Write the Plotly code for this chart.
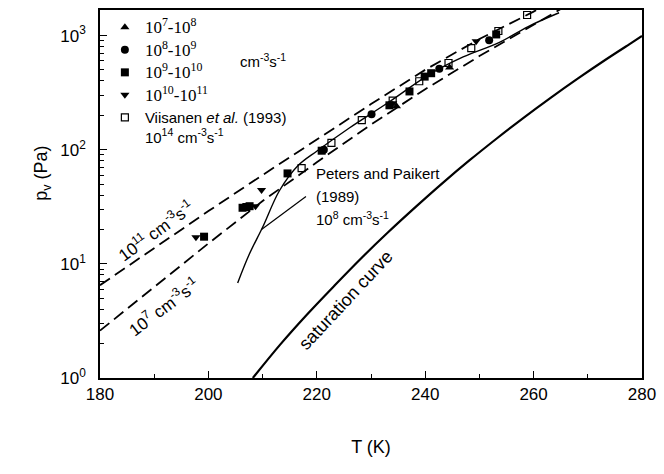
import plotly.graph_objects as go

# Temperature (K) and vapour pressure (Pa) of the measured onset conditions,
# grouped by nucleation rate (cm^-3 s^-1)
t_7_8 = [234.7, 244.5]
p_7_8 = [240, 525]

t_8_9 = [221.3, 230.1, 242.6, 251.8]
p_8_9 = [100, 204, 513, 912]

t_9_10 = [199.2, 206.3, 207.0, 207.6, 214.6, 220.9, 233.4, 237.1, 239.9, 241.1, 253.1]
p_9_10 = [17.3, 31, 31.5, 32, 62, 98, 245, 324, 437, 468, 1023]

t_10_11 = [197.7, 208.7, 209.8, 234.0, 249.4]
p_10_11 = [17.1, 32, 44.4, 255, 891]

# Viisanen et al. (1993), J = 1e14 cm^-3 s^-1
t_viis = [217.2, 222.7, 228.3, 234.0, 238.9, 244.3, 248.5, 253.5, 258.8]
p_viis = [69, 115, 182, 269, 398, 575, 776, 1096, 1514]

# Constant nucleation-rate lines
t_j11 = [180, 190, 200, 210, 220, 230, 240, 250, 260, 265]
p_j11 = [6.5, 13.8, 29.0, 60.0, 123, 251, 501, 933, 1622, 2138]

t_j7 = [180, 190, 200, 210, 220, 230, 240, 250, 260, 266]
p_j7 = [2.6, 6.3, 15.1, 35.5, 77.6, 166, 339, 661, 1259, 1820]

# Peters and Paikert (1989), J = 1e8 cm^-3 s^-1
t_pp = [205.4, 207.5, 210.0, 213.1, 216.5, 220.1, 226.0, 233.4, 240.8, 247.0, 253.7, 259.0, 264.7]
p_pp = [6.8, 12.0, 20.9, 43.7, 72.4, 98, 155, 263, 457, 650, 871, 1200, 1585]

# Saturation vapour pressure of (supercooled) liquid water
t_sat = [208.2, 213.2, 218.2, 223.2, 228.2, 233.2, 238.2, 243.2, 248.2, 253.2, 258.2, 263.2, 268.2, 273.2, 278.2, 280.0]
p_sat = [1.0, 1.95, 3.6, 6.4, 11.2, 19.0, 31.4, 51.0, 80.9, 125.4, 191.4, 286.5, 421.7, 611.2, 872, 991]

# Pointer from the Peters and Paikert curve to its label
t_ptr = [209.8, 218.0]
p_ptr = [20.0, 38.9]

SANS = "Liberation Sans, Arial, Helvetica, sans-serif"
SERIF = "Liberation Serif, Times New Roman, serif"

fig = go.Figure()

fig.add_trace(go.Scatter(x=t_j11, y=p_j11, mode="lines", showlegend=False,
                         line=dict(color="black", width=1.8, dash="12px,6px")))
fig.add_trace(go.Scatter(x=t_j7, y=p_j7, mode="lines", showlegend=False,
                         line=dict(color="black", width=1.8, dash="12px,6px")))
fig.add_trace(go.Scatter(x=t_pp, y=p_pp, mode="lines", showlegend=False,
                         line=dict(color="black", width=1.4, shape="spline")))
fig.add_trace(go.Scatter(x=t_ptr, y=p_ptr, mode="lines", showlegend=False,
                         line=dict(color="black", width=1.2)))
fig.add_trace(go.Scatter(x=t_sat, y=p_sat, mode="lines", showlegend=False,
                         line=dict(color="black", width=2.2, shape="spline")))


def serif(txt):
    return f'<span style="font-family:{SERIF};font-size:17px">{txt}</span>'


series = [
    (t_7_8, p_7_8, "triangle-up", serif("10<sup>7</sup>-10<sup>8</sup>")),
    (t_8_9, p_8_9, "circle", serif("10<sup>8</sup>-10<sup>9</sup>")),
    (t_9_10, p_9_10, "square", serif("10<sup>9</sup>-10<sup>10</sup>")),
    (t_10_11, p_10_11, "triangle-down", serif("10<sup>10</sup>-10<sup>11</sup>")),
]
for tx, py, sym, name in series:
    fig.add_trace(go.Scatter(x=tx, y=py, mode="markers", name=name,
                             marker=dict(symbol=sym, size=8, color="black")))

fig.add_trace(go.Scatter(
    x=t_viis, y=p_viis, mode="markers",
    name="Viisanen <i>et al.</i> (1993)<br>10<sup>14</sup> cm<sup>-3</sup>s<sup>-1</sup>",
    marker=dict(symbol="square-open", size=7, color="black", line=dict(width=1.2))))

annotations = [
    dict(x=219.4, y=1.794, text="Peters and Paikert", xanchor="left"),
    dict(x=219.4, y=1.594, text="(1989)", xanchor="left"),
    dict(x=219.4, y=1.394, text="10<sup>8</sup> cm<sup>-3</sup>s<sup>-1</sup>", xanchor="left"),
    dict(x=225.4, y=0.68, text="saturation curve", textangle=-47, font=dict(size=18)),
    dict(x=190.3, y=1.30, text="10<sup>11</sup> cm<sup>-3</sup>s<sup>-1</sup>", textangle=-36,
         font=dict(size=17)),
    dict(x=191.8, y=0.63, text="10<sup>7</sup> cm<sup>-3</sup>s<sup>-1</sup>", textangle=-37,
         font=dict(size=17)),
]
for a in annotations:
    a.setdefault("font", dict(size=15))
    a["font"] = dict(family=SANS, color="black", **a["font"])
    a.update(xref="x", yref="y", showarrow=False)
annotations += [
    dict(x=0.254, y=0.895, xref="paper", yref="paper", xanchor="left",
         showarrow=False, text="cm<sup>-3</sup>s<sup>-1</sup>",
         font=dict(family=SANS, size=15, color="black")),
    dict(x=-0.13, y=0.555, xref="paper", yref="paper", showarrow=False, textangle=-90,
         text="p<sub>v</sub> (Pa)", font=dict(family=SANS, size=18, color="black")),
]

minor_y = [m * 10 ** k for k in range(0, 4) for m in range(2, 10)]

fig.update_layout(
    width=664, height=474,
    margin=dict(l=100, r=21, t=8, b=96),
    paper_bgcolor="white", plot_bgcolor="white",
    font=dict(family=SANS, color="black"),
    annotations=annotations,
    legend=dict(x=0.009, y=0.997, xanchor="left", yanchor="top", bgcolor="rgba(0,0,0,0)",
                font=dict(family=SANS, size=15, color="black"),
                valign="top", traceorder="normal"),
    xaxis=dict(range=[180, 280], tickvals=[180, 200, 220, 240, 260, 280],
               ticks="inside", ticklen=7, tickwidth=1.2, tickcolor="black",
               minor=dict(tickvals=[190, 210, 230, 250, 270], ticks="inside", ticklen=4,
                          tickcolor="black"),
               showline=True, linecolor="black", linewidth=1.5, mirror=True,
               showgrid=False, zeroline=False,
               tickfont=dict(size=17, family=SANS),
               title=dict(text="T (K)", font=dict(size=18, family=SANS), standoff=37)),
    yaxis=dict(type="log", range=[0, 3.224], tickvals=[1, 10, 100, 1000],
               ticktext=["10<sup>0</sup>", "10<sup>1</sup>", "10<sup>2</sup>", "10<sup>3</sup>"],
               ticks="inside", ticklen=7, tickwidth=1.2, tickcolor="black",
               ticklabelstandoff=9,
               minor=dict(tickvals=minor_y, ticks="inside", ticklen=4, tickcolor="black"),
               showline=True, linecolor="black", linewidth=1.5, mirror=True,
               showgrid=False, zeroline=False,
               tickfont=dict(size=17, family=SANS)),
)

fig.write_html("out.html")
